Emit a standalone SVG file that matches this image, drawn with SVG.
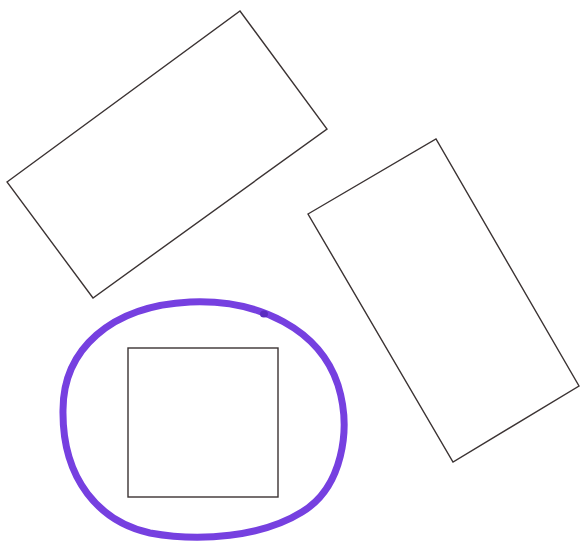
<svg xmlns="http://www.w3.org/2000/svg" width="580" height="544" viewBox="0 0 580 544">
<style>
.box{fill:none;stroke:#3b3333;stroke-width:1.4;stroke-linejoin:miter}
.mark{fill:none;stroke:#7640e0;stroke-width:7;stroke-linecap:round;stroke-linejoin:round}
</style>
<rect width="580" height="544" fill="#ffffff"/>
<g id="rect-top-left"><polygon class="box" points="7,182 240,11 327,129 93,298"/></g>
<g id="rect-right"><polygon class="box" points="308,214 436,139 579,386 453,462"/></g>
<g id="square"><rect class="box" x="128" y="348" width="150" height="149"/></g>
<g id="circle-mark">
<path class="mark" d="M63,410 C63,350 110,306 190,302 C260,299 320,330 338,385 C352,430 342,488 302,512 C262,537 200,542 150,533 C100,522 62,480 63,410 Z"/>
<ellipse cx="264" cy="314" rx="4" ry="3.5" fill="#5a2cc0"/>
</g>
</svg>
